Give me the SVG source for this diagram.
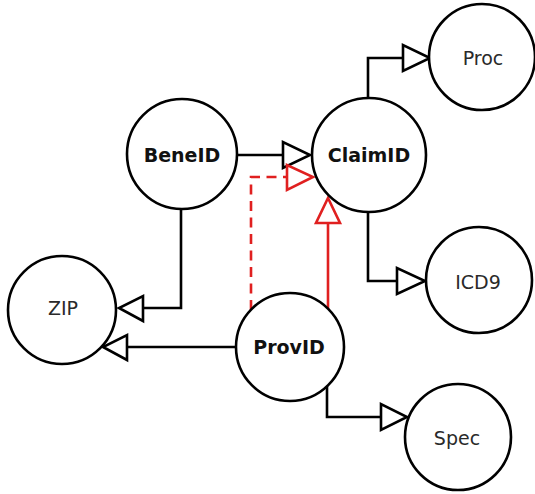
<svg xmlns="http://www.w3.org/2000/svg" width="535" height="494" viewBox="0 0 535 494">
<style>
.node circle{fill:#fff;stroke:#000;stroke-width:2.6}
.node text{font-family:"DejaVu Sans",sans-serif;font-size:19px;fill:#2a2a2a;text-anchor:middle;dominant-baseline:central}
.node text.b{font-weight:bold;fill:#111}
.edge{fill:none;stroke:#000;stroke-width:2.6}
.head{fill:#fff;stroke:#000;stroke-width:2.6;stroke-linejoin:miter}
.red{stroke:#e02020}
.dash{stroke-dasharray:10 6.5}
</style>
<rect width="535" height="494" fill="#fff"/>
<g id="connectors">
<path class="edge" d="M237,155 H283"/>
<polygon class="head" points="283,142 283,168 310,155"/>
<path class="edge red dash" d="M251,310 V177 H287"/>
<polygon class="head red" points="287,165 287,190 313,177"/>
<path class="edge red" d="M328,309 V223"/>
<polygon class="head red" points="316,223 340,223 328,198"/>
<path class="edge" d="M368,98 V58 H403"/>
<polygon class="head" points="403,45 403,71 430,58"/>
<path class="edge" d="M368,212 V281 H397"/>
<polygon class="head" points="397,268 397,294 425,281"/>
<path class="edge" d="M181,209 V308 H143"/>
<polygon class="head" points="143,296 143,321 119,308"/>
<path class="edge" d="M236,347 H127"/>
<polygon class="head" points="127,335 127,360 103,347"/>
<path class="edge" d="M327,385 V417 H381"/>
<polygon class="head" points="381,404 381,430 407,417"/>
</g>
<g id="BeneID" class="node"><circle cx="182" cy="154" r="55"/><text class="b" x="182" y="155">BeneID</text></g>
<g id="ClaimID" class="node"><circle cx="369" cy="155" r="57"/><text class="b" x="369" y="155">ClaimID</text></g>
<g id="Proc" class="node"><circle cx="482" cy="57" r="53"/><text x="483" y="58">Proc</text></g>
<g id="ICD9" class="node"><circle cx="479" cy="280" r="53"/><text x="478" y="282">ICD9</text></g>
<g id="ZIP" class="node"><circle cx="62" cy="310" r="54"/><text x="63" y="308">ZIP</text></g>
<g id="ProvID" class="node"><circle cx="290" cy="347" r="54"/><text class="b" x="289" y="347">ProvID</text></g>
<g id="Spec" class="node"><circle cx="458" cy="437" r="53"/><text x="457" y="438">Spec</text></g>
</svg>
